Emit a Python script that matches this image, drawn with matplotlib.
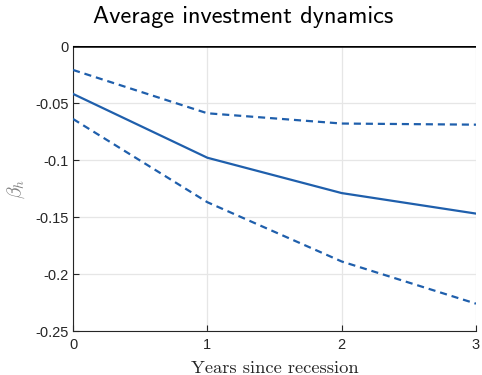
import matplotlib.pyplot as plt
import numpy as np

years = [0, 1, 2, 3]
beta = [-0.042, -0.098, -0.129, -0.147]
upper = [-0.021, -0.059, -0.068, -0.069]
lower = [-0.064, -0.137, -0.189, -0.226]

plt.rcParams['font.family'] = ['Liberation Sans', 'DejaVu Sans']
plt.rcParams['mathtext.fontset'] = 'cm'

blue = '#1f5fac'

fig = plt.figure(figsize=(4.82, 3.75), dpi=100)
ax = fig.add_axes([0.1515, 0.1173, 0.836, 0.76])

ax.axhline(0, color='black', linewidth=1.8, zorder=3)
ax.plot(years, beta, color=blue, linewidth=1.6, zorder=4)
ax.plot(years, upper, color=blue, linewidth=1.6, linestyle=(0, (3.2, 2.2)), zorder=4)
ax.plot(years, lower, color=blue, linewidth=1.6, linestyle=(0, (3.2, 2.2)), zorder=4)

ax.set_xlim(0, 3)
ax.set_ylim(-0.25, 0)
ax.set_xticks(years)
yt = [0, -0.05, -0.1, -0.15, -0.2, -0.25]
ax.set_yticks(yt)
ax.set_yticklabels(['0', '-0.05', '-0.1', '-0.15', '-0.2', '-0.25'])
ax.grid(True, color='#e6e6e6', linewidth=0.9)
ax.set_axisbelow(True)
ax.tick_params(direction='in', length=4, labelsize=10.5, color='#262626',
               labelcolor='#262626', top=False, right=False)
ax.tick_params(axis='x', pad=5)
ax.tick_params(axis='y', pad=3)

for s in ['top', 'right']:
    ax.spines[s].set_visible(False)
for s in ['left', 'bottom']:
    ax.spines[s].set_color('#262626')
    ax.spines[s].set_linewidth(0.8)

ax.set_xlabel('Years since recession', family='cmr10', fontsize=13.3, color='#262626', labelpad=6)
ax.set_ylabel(r'$\beta_h$', fontsize=14, color='#808080', labelpad=6)
fig.suptitle('Average investment dynamics', family='cmss10', fontsize=17.5, color='black',
             x=0.505, y=0.985, va='top')

fig.savefig('out.png', dpi=100)
